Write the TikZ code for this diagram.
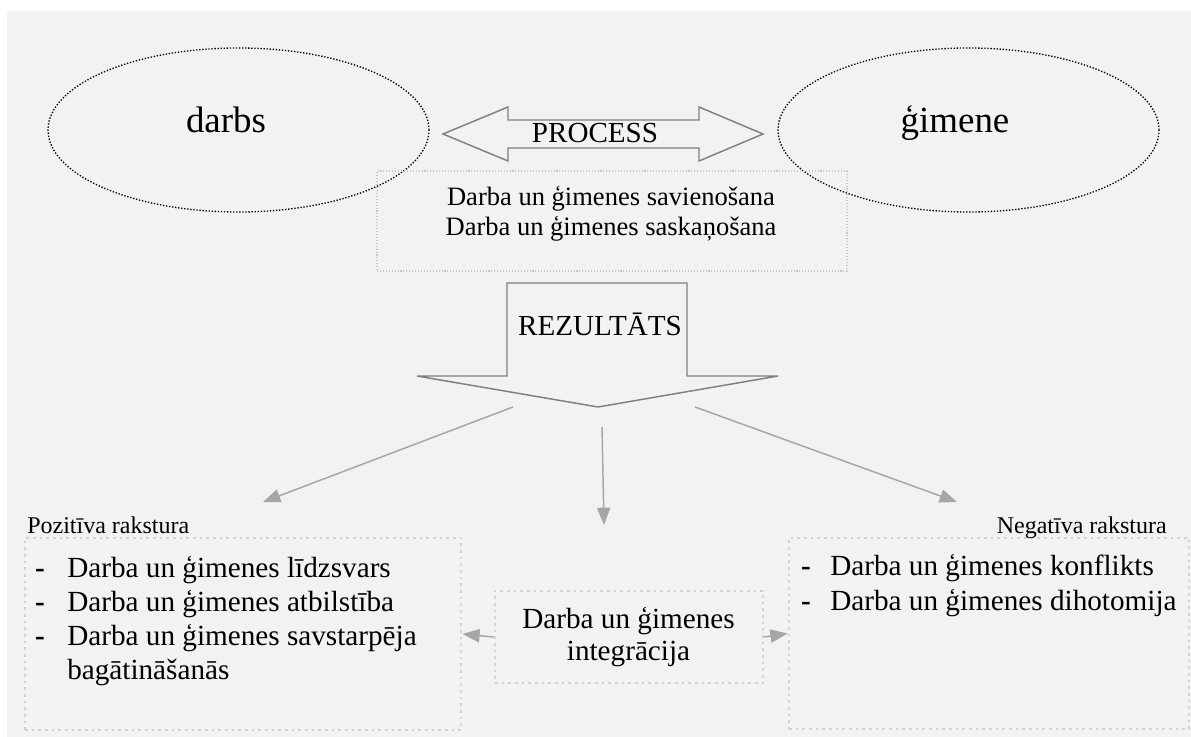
\documentclass[tikz,border=0pt]{standalone}
\usepackage{fontspec}
\setmainfont{Liberation Serif}
\usetikzlibrary{arrows.meta,shapes.geometric}
\definecolor{panel}{HTML}{F2F2F2}
\definecolor{outline}{HTML}{808080}
\definecolor{linkgray}{HTML}{A6A6A6}
\definecolor{dotgray}{HTML}{D2D2D2}
\definecolor{thingray}{HTML}{C8C8C8}
\tikzset{
  oval/.style={ellipse, draw=black, line width=1pt, dash pattern=on 1pt off 1.3pt,
    minimum width=285.75pt, minimum height=123pt, inner sep=0pt},
  thinbox/.style={draw=thingray, line width=0.8pt, dash pattern=on 0.8pt off 1.4pt, inner sep=0pt},
  dotbox/.style={draw=dotgray, line width=2pt, dash pattern=on 2pt off 3pt, inner sep=0pt},
  blockarrow/.style={draw=outline, line width=1.1pt, line join=miter},
  link/.style={draw=linkgray, line width=1.1pt, -{Triangle[length=13pt,width=10pt]}},
  bigtext/.style={font=\fontsize{27.7}{33}\selectfont, inner sep=0pt},
  headtext/.style={font=\fontsize{21.8}{26}\selectfont, inner sep=0pt},
  proctext/.style={font=\fontsize{19.9}{22.5}\selectfont, inner sep=0pt},
  itemtext/.style={font=\fontsize{21.9}{25}\selectfont, inner sep=0pt},
  labeltext/.style={font=\fontsize{18}{21}\selectfont, inner sep=0pt}
}
\begin{document}
\begin{tikzpicture}[x=0.75pt,y=-0.75pt]
  \useasboundingbox (0,0) rectangle (1191,737);
  \fill[panel] (7,11) rectangle (1191,737);
  % the two fields
  \node[oval] (darbs) at (238.5,130) {};
  \node[oval] (gimene) at (968.5,130) {};
  \node[bigtext,anchor=base] (darbsT) at (226,133) {darbs};
  \node[bigtext,anchor=base] (gimeneT) at (955,133) {ģimene};
  % process arrow and box
  \draw[blockarrow] (443,134) -- (508,107) -- (508,120) -- (699,120) -- (699,107) -- (763,134)
     -- (699,161) -- (699,148) -- (508,148) -- (508,161) -- cycle;
  \node[headtext,anchor=base] (process) at (595,143) {PROCESS};
  \node[thinbox,minimum width=352.5pt,minimum height=75pt] (procbox) at (612,221) {};
  \node[proctext,anchor=base] (proc1) at (611,206) {Darba un ģimenes savienošana};
  \node[proctext,anchor=base] (proc2) at (611,236) {Darba un ģimenes saskaņošana};
  % result arrow
  \draw[blockarrow] (507,283) -- (687,283) -- (687,376) -- (778,376) -- (598,407)
     -- (417,376) -- (507,376) -- cycle;
  \node[headtext,anchor=base] (result) at (600,336) {REZULTĀTS};
  % connectors
  \coordinate (fromL) at (513,407);
  \coordinate (toL) at (263,502);
  \coordinate (fromM) at (602,427);
  \coordinate (toM) at (604,525);
  \coordinate (fromR) at (695,407);
  \coordinate (toR) at (957,502);
  \draw[link] (fromL) -- (toL);
  \draw[link] (fromM) -- (toM);
  \draw[link] (fromR) -- (toR);
  % outcome boxes
  \node[dotbox,minimum width=327pt,minimum height=144pt] (posbox) at (243,634) {};
  \node[dotbox,minimum width=300pt,minimum height=143.25pt] (negbox) at (989,633.5) {};
  \node[dotbox,minimum width=201pt,minimum height=69pt] (integ) at (629,637) {};
  \node[labeltext,anchor=base west] (posT) at (27,533) {Pozitīva rakstura};
  \node[labeltext,anchor=base east] (negT) at (1167,533) {Negatīva rakstura};
  % positive
  \node[itemtext,anchor=base] (pd1) at (40,577) {\textbf{-}};
  \node[itemtext,anchor=base] (pd2) at (40,611) {\textbf{-}};
  \node[itemtext,anchor=base] (pd3) at (40,645) {\textbf{-}};
  \node[itemtext,anchor=base west] (pos1) at (67,577) {Darba un ģimenes līdzsvars};
  \node[itemtext,anchor=base west] (pos2) at (67,611) {Darba un ģimenes atbilstība};
  \node[itemtext,anchor=base west] (pos3) at (67,645) {Darba un ģimenes savstarpēja};
  \node[itemtext,anchor=base west] (pos4) at (67,679) {bagātināšanās};
  % negative
  \node[itemtext,anchor=base] (nd1) at (806,575) {\textbf{-}};
  \node[itemtext,anchor=base] (nd2) at (806,610) {\textbf{-}};
  \node[itemtext,anchor=base west] (neg1) at (830,575) {Darba un ģimenes konflikts};
  \node[itemtext,anchor=base west] (neg2) at (830,610) {Darba un ģimenes dihotomija};
  % integration
  \node[itemtext,anchor=base] (int1) at (628.5,628) {Darba un ģimenes};
  \node[itemtext,anchor=base] (int2) at (628.5,660) {integrācija};
  \draw[link] (integ.west) -- (posbox.east);
  \draw[link] (integ.east) -- (negbox.west);
\end{tikzpicture}
\end{document}
